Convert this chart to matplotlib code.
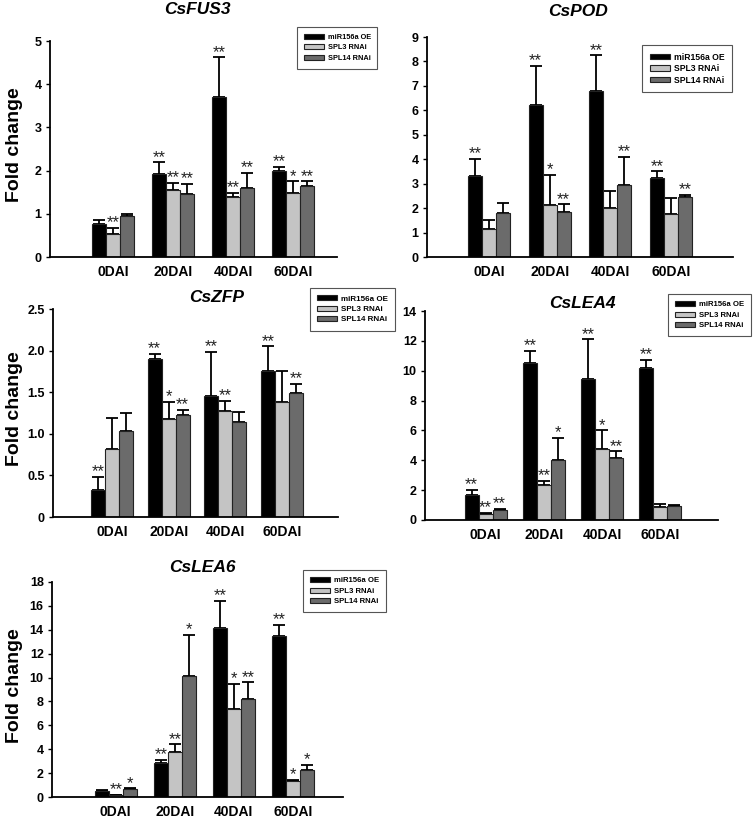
import matplotlib.pyplot as plt
import numpy as np

plt.rcParams['font.family'] = ['Liberation Sans', 'DejaVu Sans']

days = ['0DAI', '20DAI', '40DAI', '60DAI']
series = ['miR156a OE', 'SPL3 RNAi', 'SPL14 RNAi']
colors = ['#000000', '#c4c4c4', '#6b6b6b']

# CsFUS3
fus3_mean = [[0.77, 1.91, 3.71, 2.00], [0.53, 1.55, 1.38, 1.48], [0.95, 1.46, 1.59, 1.65]]
fus3_top = [[0.86, 2.19, 4.62, 2.08], [0.68, 1.71, 1.48, 1.75], [1.00, 1.70, 1.94, 1.75]]
fus3_sig = [['', '**', '**', '**'], ['**', '**', '**', '*'], ['', '**', '**', '**']]

# CsPOD
pod_mean = [[3.33, 6.22, 6.78, 3.22], [1.13, 2.12, 2.00, 1.75], [1.80, 1.83, 2.93, 2.45]]
pod_top = [[4.00, 7.83, 8.25, 3.50], [1.53, 3.35, 2.70, 2.42], [2.20, 2.15, 4.08, 2.55]]
pod_sig = [['**', '**', '**', '**'], ['', '*', '', ''], ['', '**', '**', '**']]

# CsZFP
zfp_mean = [[0.32, 1.90, 1.45, 1.76], [0.82, 1.18, 1.27, 1.38], [1.03, 1.23, 1.14, 1.49]]
zfp_top = [[0.48, 1.96, 1.98, 2.05], [1.19, 1.38, 1.40, 1.75], [1.25, 1.29, 1.26, 1.60]]
zfp_sig = [['**', '**', '**', '**'], ['', '*', '**', ''], ['', '**', '', '**']]

# CsLEA4
lea4_mean = [[1.70, 10.50, 9.45, 10.20], [0.38, 2.35, 4.75, 0.85], [0.68, 4.05, 4.15, 0.92]]
lea4_top = [[2.00, 11.35, 12.10, 10.70], [0.45, 2.60, 6.00, 1.05], [0.72, 5.50, 4.60, 1.00]]
lea4_sig = [['**', '**', '**', '**'], ['**', '**', '*', ''], ['**', '*', '**', '']]

# CsLEA6
lea6_mean = [[0.50, 2.85, 14.15, 13.50], [0.15, 3.80, 7.35, 1.35], [0.65, 10.15, 8.20, 2.25]]
lea6_top = [[0.60, 3.10, 16.45, 14.40], [0.20, 4.40, 9.45, 1.45], [0.72, 13.55, 9.60, 2.70]]
lea6_sig = [['', '**', '**', '**'], ['**', '**', '*', '*'], ['*', '*', '**', '*']]

fig = plt.figure(figsize=(7.55, 8.18), dpi=100)
W, H = 755.0, 818.0


def panel(px_left, px_right, px_bottom, px_top, xlim, ylim, yticks, yticklabels,
          mean, top, sig, title, title_xy, leg_xy, leg_fs, ylabel_y=None):
    ax = fig.add_axes([px_left / W, 1 - px_bottom / H,
                       (px_right - px_left) / W, (px_bottom - px_top) / H])
    x = np.arange(len(days))
    spacing = (px_right - px_left) / (xlim[1] - xlim[0])
    w = 14.0 / spacing
    for i in range(3):
        m = np.array(mean[i])
        t = np.array(top[i])
        xs = x + (i - 1) * w
        ax.bar(xs, m, w, color=colors[i], edgecolor='#222222', linewidth=0.8,
               label=series[i], zorder=2)
        ax.errorbar(xs, m, yerr=[np.zeros(4), t - m], fmt='none', ecolor='black',
                    elinewidth=1.3, capsize=4, capthick=1.3, zorder=1)
        for j in range(4):
            if sig[i][j]:
                ax.annotate(sig[i][j], (xs[j], t[j]), xytext=(0, 0.5),
                            textcoords='offset points', ha='center',
                            va='baseline', fontsize=12, color='#222222')
    ax.set_xlim(*xlim)
    ax.set_ylim(*ylim)
    ax.set_yticks(yticks)
    ax.set_yticklabels(yticklabels, fontsize=9, fontweight='bold')
    ax.set_xticks(x)
    ax.set_xticklabels(days, fontsize=10, fontweight='bold')
    ax.tick_params(axis='x', length=0, pad=6)
    ax.tick_params(axis='y', length=3, width=1, direction='out', pad=3)
    for s in ['top', 'right']:
        ax.spines[s].set_visible(False)
    for s in ['left', 'bottom']:
        ax.spines[s].set_linewidth(1.3)
    fig.text(title_xy[0] / W, 1 - title_xy[1] / H, title, ha='center', va='center',
             fontsize=12.5, fontweight='bold', style='italic')
    fs_px = leg_fs * 100 / 72.0
    leg = ax.legend(loc='upper left', bbox_to_anchor=(leg_xy[0] / W, 1 - leg_xy[1] / H),
                    bbox_transform=fig.transFigure, fancybox=False, framealpha=1,
                    edgecolor='#555555', handlelength=20.0 / fs_px,
                    handleheight=5.0 / fs_px, handletextpad=4.0 / fs_px,
                    borderpad=0.9, borderaxespad=0,
                    labelspacing=(11.0 - fs_px) / fs_px,
                    prop={'size': leg_fs, 'weight': 'bold'})
    leg.get_frame().set_linewidth(0.8)
    if ylabel_y is not None:
        fig.text(15 / W, 1 - ylabel_y / H, 'Fold change', rotation=90, ha='center',
                 va='center', fontsize=14, fontweight='bold')
    return ax


panel(50, 337, 257, 41, (-1.05, 3.73), (0, 5), [0, 1, 2, 3, 4, 5],
      ['0', '1', '2', '3', '4', '5'], fus3_mean, fus3_top, fus3_sig,
      'CsFUS3', (197, 10), (297, 27), 5.3, ylabel_y=145)
panel(427, 733, 257, 37, (-1.02, 4.02), (0, 9), list(range(10)),
      [str(v) for v in range(10)], pod_mean, pod_top, pod_sig,
      'CsPOD', (578, 12), (642, 45), 6.2)
panel(53, 338, 517, 309, (-1.04, 3.99), (0, 2.5), [0, 0.5, 1.0, 1.5, 2.0, 2.5],
      ['0', '0.5', '1.0', '1.5', '2.0', '2.5'], zfp_mean, zfp_top, zfp_sig,
      'CsZFP', (217, 297), (310, 288), 5.8, ylabel_y=409)
panel(425, 718, 520, 311, (-1.04, 3.99), (0, 14), [0, 2, 4, 6, 8, 10, 12, 14],
      ['0', '2', '4', '6', '8', '10', '12', '14'], lea4_mean, lea4_top, lea4_sig,
      'CsLEA4', (582, 303), (668, 294), 5.6)
panel(52, 343, 797, 582, (-1.08, 3.85), (0, 18), list(range(0, 19, 2)),
      [str(v) for v in range(0, 19, 2)], lea6_mean, lea6_top, lea6_sig,
      'CsLEA6', (202, 567), (303, 570), 5.6, ylabel_y=686)

fig.savefig('out.png', dpi=100)
